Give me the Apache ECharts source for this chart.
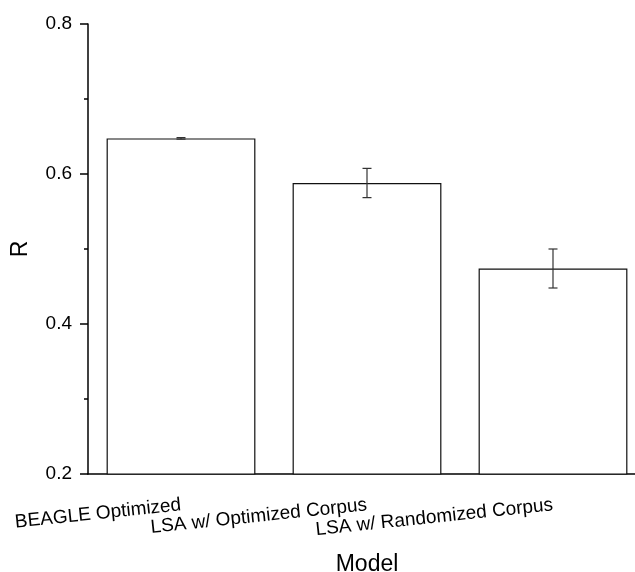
<!DOCTYPE html>
<html>
<head>
<meta charset="utf-8">
<script src="https://cdn.jsdelivr.net/npm/echarts@6/dist/echarts.min.js"></script>
<style>html,body{margin:0;padding:0;background:#fff}#c{width:635px;height:572px}</style>
</head>
<body>
<div id="c"></div>
<script>
var categories = ['BEAGLE Optimized', 'LSA w/ Optimized Corpus', 'LSA w/ Randomized Corpus'];
var values = [0.6475, 0.588, 0.474];
var errors = [0.001, 0.0195, 0.026];
var yTicks = [0.2, 0.4, 0.6, 0.8];

var font = '"Liberation Sans", Arial, sans-serif';
var chart = echarts.init(document.getElementById('c'));
var errData = values.map(function (v, i) { return [i, v - errors[i], v + errors[i]]; });

chart.setOption({
  animation: false,
  grid: { left: 88, right: -11, top: 24, bottom: 98, containLabel: false, outerBoundsMode: 'none' },
  xAxis: [{
    type: 'category',
    data: categories,
    name: 'Model',
    nameLocation: 'middle',
    nameGap: 79,
    nameTextStyle: { fontSize: 23, color: '#000', fontFamily: font },
    axisLine: { lineStyle: { color: '#000', width: 1.5 } },
    axisTick: { alignWithLabel: true, length: 9, lineStyle: { color: '#000', width: 1.5 } },
    axisLabel: { rotate: 6, fontSize: 19, color: '#000', fontFamily: font, margin: 31, interval: 0 }
  }, {
    type: 'category',
    data: categories,
    position: 'bottom',
    axisLine: { show: false },
    axisTick: { length: 5, lineStyle: { color: '#000', width: 1.5 } },
    axisLabel: { show: false }
  }],
  yAxis: {
    type: 'value',
    min: yTicks[0],
    max: yTicks[yTicks.length - 1],
    interval: 0.2,
    name: 'R',
    nameLocation: 'middle',
    nameGap: 56,
    nameTextStyle: { fontSize: 23, color: '#000', fontFamily: font },
    axisLine: { show: true, lineStyle: { color: '#000', width: 1.5 } },
    axisTick: { show: true, length: 8, lineStyle: { color: '#000', width: 1.5 } },
    minorTick: { show: true, splitNumber: 2, length: 4, lineStyle: { color: '#000', width: 1.5 } },
    splitLine: { show: false },
    axisLabel: { fontSize: 19, color: '#000', fontFamily: font, margin: 16,
      formatter: function (v) { return v.toFixed(1); } }
  },
  series: [{
    type: 'bar',
    data: values,
    barWidth: '80%',
    itemStyle: { color: '#fff', borderColor: '#111', borderWidth: 1.2 }
  }, {
    type: 'custom',
    data: errData,
    z: 10,
    renderItem: function (params, api) {
      var x = api.value(0);
      var lo = api.coord([x, api.value(1)]);
      var hi = api.coord([x, api.value(2)]);
      var hw = 4.5;
      var st = { stroke: '#333', lineWidth: 1.2 };
      return {
        type: 'group',
        children: [
          { type: 'line', shape: { x1: lo[0], y1: lo[1], x2: hi[0], y2: hi[1] }, style: st },
          { type: 'line', shape: { x1: lo[0] - hw, y1: lo[1], x2: lo[0] + hw, y2: lo[1] }, style: st },
          { type: 'line', shape: { x1: hi[0] - hw, y1: hi[1], x2: hi[0] + hw, y2: hi[1] }, style: st }
        ]
      };
    }
  }]
});
</script>
</body>
</html>
